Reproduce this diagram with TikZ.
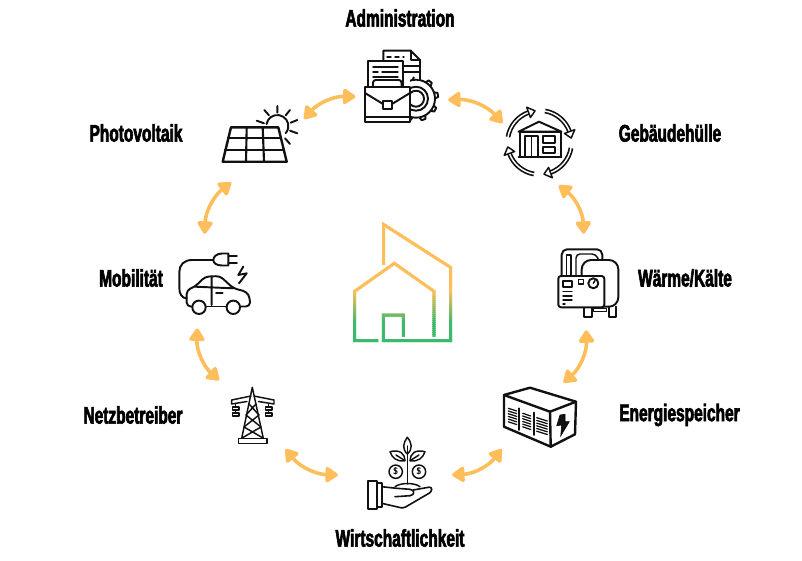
\documentclass[tikz,border=0pt]{standalone}
\usepackage{fontspec}
\usetikzlibrary{arrows.meta}
\newfontfamily\labelfont[FakeStretch=0.645,FakeBold=2.5]{Liberation Sans Bold}
\definecolor{amber}{HTML}{FFBE5C}
\definecolor{leaf}{HTML}{3CB96A}
\definecolor{ink}{HTML}{111111}

\begin{document}
\begin{tikzpicture}[
  x=0.75pt, y=-0.75pt,
  line/.style={line width=1.45pt, draw=ink, line join=round, line cap=round},
  thin line/.style={line width=1.1pt, draw=ink, line join=round, line cap=round},
  label/.style={font=\labelfont\fontsize{18}{20}\selectfont, text=black},
  hub/.style={circle, minimum size=#1*1.5pt, inner sep=0pt, outer sep=0pt},
  link/.style={{Triangle[length=10.5pt,width=13pt,round]}-{Triangle[length=10.5pt,width=13pt,round]},
    line width=2.7pt, draw=amber, shorten <=1pt, shorten >=1pt},
  coin/.style={circle, draw=ink, line width=1.1pt, minimum size=10pt, inner sep=0pt,
    font=\sffamily\bfseries\fontsize{7}{7}\selectfont},
]
\useasboundingbox (0,0) rectangle (802,560);

% Icon places
\node[hub=45.5] (admin) at (402,92) {};
\node[hub=43] (building) at (541,145) {};
\node[hub=47] (heat) at (587,282) {};
\node[hub=44.5] (storage) at (537,420) {};
\node[hub=56] (finance) at (395,470) {};
\node[hub=46.5] (grid) at (253,414) {};
\node[hub=47.5] (car) at (212,282) {};
\node[hub=51.5] (solar) at (254,135) {};

% Labels
\node[label] (adminlabel) at (400,18) {Administration};
\node[label] (solarlabel) at (136,133) {Photovoltaik};
\node[label] (buildinglabel) at (670,133) {Gebäudehülle};
\node[label] (heatlabel) at (685,278) {Wärme/Kälte};
\node[label] (storagelabel) at (679.5,415) {Energiespeicher};
\node[label] (financelabel) at (400,538) {Wirtschaftlichkeit};
\node[label] (gridlabel) at (133,415) {Netzbetreiber};
\node[label] (carlabel) at (131,278) {Mobilität};

% Arrows
\draw[link] (solar.17) to[bend left=25] (admin.186);
\draw[link] (admin.350) to[bend left=25] (building.151);
\draw[link] (building.293) to[bend left=25] (heat.94);
\draw[link] (heat.269) to[bend left=25] (storage.55);
\draw[link] (storage.219) to[bend left=25] (finance.355);
\draw[link] (finance.185) to[bend left=25] (grid.313);
\draw[link] (grid.135) to[bend left=25] (car.252);
\draw[link] (car.99) to[bend left=25] (solar.245);

% House
\foreach \y in {222,224,...,344} {
  \pgfmathsetmacro{\mixval}{min(100,max(0,(322-\y)/32*100))}
  \colorlet{bandcolor}{amber!\mixval!leaf}
  \begin{scope}
    \clip (340,\y) rectangle (465,\y+2.6);
    \draw[line width=2.3pt, draw=bandcolor, line join=miter]
      (383.7,265) -- (383.7,224.5) -- (450.7,267.5) -- (450.7,340.7) -- (383.3,340.7)
      -- (383.3,315) -- (403.3,315) -- (403.3,336.7);
    \draw[line width=2.3pt, draw=bandcolor, line join=miter]
      (378.3,340.7) -- (354.7,340.7) -- (354.7,291.3) -- (394.3,263.3) -- (434,291.3) -- (434,336.7);
  \end{scope}
}

% Administration
\begin{scope}
  \clip (410,70) rectangle (445,125);
  \draw[line] (416,98.7) circle (12);
  \foreach \a in {0,40,...,320} {
    \draw[line, rotate around={\a:(416,98.7)}] (413,79.5) -- (414,76.5) -- (418,76.5) -- (419,79.5);
  }
  \draw[line] (416,98.7) circle (19);
  \draw[line] (416,98.7) circle (8);
\end{scope}
\draw[line, fill=white] (383.3,60.7) -- (383.3,50.7) -- (410.7,50.7) -- (420,60) -- (420,80);
\draw[line] (410.7,50.7) -- (410.7,60) -- (420,60);
\draw[thin line, dashed] (387,57) -- (404,57);
\draw[thin line] (404,66) -- (420,66) (404,72) -- (420,72);
\draw[line, fill=white] (368,86.7) -- (368,60.7) -- (403.3,60.7) -- (403.3,86.7);
\draw[thin line] (373,67) -- (398,67) (373,72) -- (378,72) (382,72) -- (398,72) (373,77) -- (398,77);
\draw[line, fill=white, rounded corners=2] (373,86.7) -- (373,80) -- (401.5,80) -- (401.5,86.7);
\draw[line, fill=white] (365,86.7) rectangle (410,122.3);
\draw[line] (365,93) -- (383,104) (392,104) -- (410,93);
\draw[line, fill=white] (382.7,101) rectangle (392.3,109);
\draw[line] (365,116.7) -- (410,116.7);

% Building
\begin{scope}[shift={(539.5,142.5)}]
  \foreach \a in {-80,10,100,190} {
    \draw[line width=3.6pt, draw=ink] (\a:32) arc[start angle=\a,end angle=\a+60,radius=32];
    \draw[line width=1.1pt, draw=white] (\a:32) arc[start angle=\a,end angle=\a+61,radius=32];
    \draw[thin line, fill=white] (\a+60:26.5) -- (\a+60:37.5) -- (\a+72:32) -- cycle;
  }
\end{scope}
\draw[line] (518.5,131.7) -- (539,121.7) -- (561.5,131.7) -- cycle;
\draw[line] (520,131.7) rectangle (560.7,157);
\draw[line] (518.5,157.3) -- (561.5,157.3);
\draw[line] (525,136) rectangle (538.3,156.7);
\draw[thin line] (531.7,136) -- (531.7,156.7);
\draw[line] (542.7,136) rectangle (555,142.7);
\draw[line] (542.7,146.7) rectangle (555,153.3);

% Photovoltaik
\draw[line, line width=1.8pt] (231,127.3) -- (278.3,127.3) -- (286.7,161.7) -- (222.7,161.7) -- cycle;
\draw[line, line width=1.6pt] (228,138.3) -- (281,138.3) (225,150) -- (284,150);
\draw[line, line width=1.6pt] (246.7,127.3) -- (246,161.7) (262.7,127.3) -- (264,161.7);
\draw[line] (266.5,124.1) arc[start angle=190,end angle=400,radius=11];
\draw[line] (277.3,106) -- (277.3,112.7) (264.3,110) -- (269,115.3) (290,110) -- (285.7,115.3)
  (256.7,120.7) -- (264,123.3) (297.3,120) -- (290.7,122.7) (297.3,133.3) -- (290,130.7)
  (290,144) -- (285,138.3);

% Mobilitaet
\begin{scope}[line width=1.45pt, draw=ink, line join=round, line cap=round]
  \draw (213.3,260) -- (192,260) .. controls (184,260) and (179.3,265) .. (179.3,272) -- (179.3,288)
    .. controls (179.3,294) and (182,298.3) .. (186.7,298.3);
  \draw (228.3,253.5) -- (222,253.5) .. controls (216.5,253.5) and (213.3,257) .. (213.3,260)
    .. controls (213.3,263) and (216.5,265.5) .. (222,265.5) -- (228.3,265.5) -- cycle;
  \draw (228.3,256.3) -- (237,256.3) (228.3,262.7) -- (237,262.7);
  \draw[rounded corners=3] (192,306.5) -- (186.7,306.5) -- (186.7,290) -- (195,286.7)
    -- (205,276.7) -- (220,276) -- (233.3,288.3) -- (246.7,291.7) -- (250,298) -- (250,306.5) -- (240,306.5);
  \draw (206,306.5) -- (226.7,306.5);
  \draw[fill=white] (199,307.3) circle (6.7) (233.3,307.3) circle (6.7);
  \draw (211.7,276.7) -- (211.7,305) (195,286.7) -- (233.3,288.3);
  \draw (216,293) -- (222.7,293);
  \draw (243.3,266.7) -- (238.3,275) -- (246.7,273.3) -- (239,283.3);
\end{scope}

% Waerme/Kaelte
\draw[line, rounded corners=4] (561.7,276) -- (561.7,249.3) -- (602.3,249.3) -- (602.3,260);
\draw[thin line] (566.7,276) -- (566.7,255) -- (571,255) -- (571,276);
\draw[thin line, rounded corners=3] (576,276) -- (576,254) -- (596,254) -- (598.5,260);
\draw[line, fill=white, rounded corners=7] (581.7,306.7) -- (581.7,260) -- (618.3,260) -- (618.3,306.7) -- cycle;
\draw[line] (584,306.7) -- (584,316.7) -- (591.7,316.7) -- (591.7,306.7)
  (609,306.7) -- (609,316.7) -- (616,316.7) -- (616,306.7);
\draw[thin line] (593.3,308.3) rectangle (606.7,311.7);
\draw[line, fill=white, rounded corners=2] (558.3,276) rectangle (604.3,307.3);
\draw[line] (563,281) rectangle (572,287);
\draw[line] (578.5,279.5) rectangle (583.5,284);
\draw[line] (593.3,283.3) circle (5);
\draw[thin line] (593.3,283.3) -- (595,280.5);
\draw[thin line] (563,291.7) -- (572,291.7) (563,296) -- (572,296) (563,300) -- (572,300) (563,304) -- (565,304);

% Energiespeicher
\draw[line, line width=1.8pt] (504,395) -- (530,387.7) -- (576,401.7) -- (575,434.3) -- (550.7,446.7) -- (504,426.7) -- cycle;
\draw[line, line width=1.8pt] (504,395) -- (550,411.7) -- (576,401.7) (550,411.7) -- (550.7,446.7);
\draw[fill=ink] (565,414.3) -- (560,415) -- (556.7,425.7) -- (561.7,425) -- (560.7,436) -- (569.3,421.7) -- (565,421.7) -- cycle;
\draw[line] (519.3,408.3) -- (519.3,430) (534,412.7) -- (534,435);
\foreach \y in {0,2.7,...,13.6} {
  \draw[thin line, line width=0.95pt] (508.3,408.3+\y) -- (516.7,411+\y);
  \draw[thin line, line width=0.95pt] (522.7,413.3+\y) -- (530.7,416+\y);
  \draw[thin line, line width=0.95pt] (536.7,417.7+\y) -- (547.3,421+\y);
}

% Netzbetreiber
\draw[thin line, fill=white] (238.3,438.3) rectangle (267,443.3);
\draw[thin line] (252.3,387.3) -- (241.7,438.3) (252.3,387.3) -- (263.3,438.3);
\draw[thin line] (251,396) -- (231.7,400) -- (231.7,404) -- (247,401.5)
  (254,396) -- (274,400) -- (274,404) -- (258.5,401.5);
\draw[thin line] (249,404) -- (259,415) -- (244,427) -- (263,438)
  (256,404) -- (246,415) -- (261,427) -- (242,438);
\draw[thin line] (235.7,404) -- (235.7,416) (268.7,404) -- (268.7,416);
\draw[thin line, fill=white] (232.7,407) rectangle (239,410) (265.7,407) rectangle (272,410)
  (232.7,413) rectangle (239,416) (265.7,413) rectangle (272,416);

% Wirtschaftlichkeit
\draw[thin line] (407.3,446) -- (407.3,484);
\draw[thin line] (407.3,437.3) .. controls (412,443) and (413,449) .. (407.3,454)
  .. controls (402,449) and (403,443) .. cycle;
\draw[thin line] (390,451.7) .. controls (400,449) and (405,454) .. (405,460.7)
  .. controls (397,462) and (392,458) .. cycle;
\draw[thin line] (425,451.7) .. controls (415,449) and (410,454) .. (410,460.7)
  .. controls (418,462) and (423,458) .. cycle;
\draw[thin line] (396,455) -- (405,460.7) (419,455) -- (410,460.7);
\node[coin] (coinleft) at (395.7,471.7) {\$};
\node[coin] (coinright) at (419,471.7) {\$};
\draw[thin line] (395,486.7) .. controls (400,482.5) and (415,482.5) .. (420,486.7);
\draw[line] (368.3,481) rectangle (376.7,509);
\draw[line] (376.7,483.3) rectangle (381.7,506.7);
\draw[line, line width=1.2pt] (381.7,486.7) -- (396.7,488.3) -- (410,489.3)
  .. controls (415,490) and (415,495) .. (410,495.7) -- (395,496.7);
\draw[line, line width=1.2pt, rounded corners=2] (381.7,503.3) -- (403.3,508.3) -- (431.7,491.7) -- (431.7,486.7) -- (413.3,490);

\end{tikzpicture}
\end{document}
